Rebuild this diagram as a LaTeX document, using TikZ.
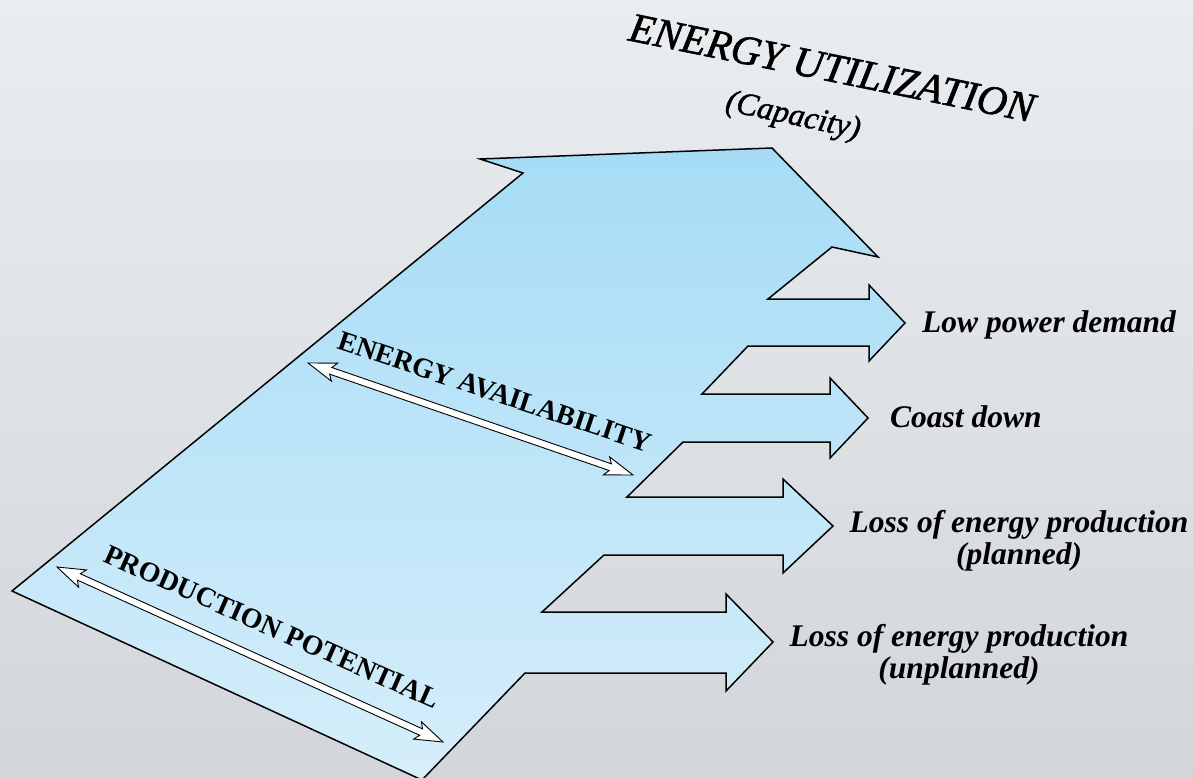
\documentclass[tikz,border=0pt]{standalone}
\usepackage{fontspec}
\setmainfont{Liberation Serif}
\newfontfamily\titlefont{Liberation Serif}[FakeBold=1.4]
\usetikzlibrary{calc}
\definecolor{bgtop}{RGB}{234,237,240}
\definecolor{bgbot}{RGB}{210,214,218}
\definecolor{flowtop}{RGB}{166,220,246}
\definecolor{flowbot}{RGB}{214,238,250}
\tikzset{
  flowline/.style={draw=black, line width=1.5pt, line join=miter, top color=flowtop, bottom color=flowbot},
  dblarrow/.style={draw=black, fill=white, line width=0.9pt, line join=miter},
  sidelabel/.style={font=\fontsize{31.5}{32}\selectfont\bfseries\itshape, inner sep=0pt, align=center},
  slantlabel/.style={font=\fontsize{28}{30}\selectfont\bfseries, inner sep=0pt},
  titlelabel/.style={font=\titlefont\fontsize{41.5}{44}\selectfont\itshape, inner sep=0pt},
  sublabel/.style={font=\titlefont\fontsize{32}{34}\selectfont\itshape, inner sep=0pt},
}
\newcommand{\hollowdbl}[2]{%
  \path[dblarrow] (#1)
    -- ($(#1)!28pt!(#2)!9.5pt!90:(#2)$)
    -- ($(#1)!24pt!(#2)!3.5pt!90:(#2)$)
    -- ($(#2)!24pt!(#1)!3.5pt!-90:(#1)$)
    -- ($(#2)!28pt!(#1)!9.5pt!-90:(#1)$)
    -- (#2)
    -- ($(#2)!28pt!(#1)!9.5pt!90:(#1)$)
    -- ($(#2)!24pt!(#1)!3.5pt!90:(#1)$)
    -- ($(#1)!24pt!(#2)!3.5pt!-90:(#2)$)
    -- ($(#1)!28pt!(#2)!9.5pt!-90:(#2)$)
    -- cycle;}
\begin{document}
\begin{tikzpicture}[x=1pt,y=-1pt]
\useasboundingbox (0,0) rectangle (1193,778);
\shade[top color=bgtop,bottom color=bgbot] (0,0) rectangle (1193,778);
% main flow shape
\path[flowline]
  (422,780) -- (12,591) -- (523,173) -- (480,159) -- (772,148) -- (878,257)
  -- (832,247) -- (768,299) -- (869,299) -- (869,285) -- (905,323) -- (869,361) -- (869,346)
  -- (748,346) -- (702,394) -- (830,394) -- (830,378) -- (868,418) -- (830,458) -- (830,442)
  -- (683,442) -- (627,497) -- (783,497) -- (783,479) -- (833,526) -- (783,573) -- (783,555)
  -- (604,555) -- (542,612) -- (726,612) -- (726,594) -- (773,642) -- (726,691) -- (726,673)
  -- (525,673) -- cycle;
% double arrows
\coordinate (eaL) at (308,363);
\coordinate (eaR) at (633,475);
\coordinate (ppL) at (57,567);
\coordinate (ppR) at (443,742);
\hollowdbl{eaL}{eaR}
\hollowdbl{ppL}{ppR}
% texts
\node[titlelabel, rotate=-11.5] (title) at (832,68) {ENERGY UTILIZATION};
\node[sublabel, rotate=-12] (cap) at (793,117) {(Capacity)};
\node[slantlabel, rotate=-18.5] (ea) at (495,392) {ENERGY AVAILABILITY};
\node[slantlabel, rotate=-24] (pp) at (272,627) {PRODUCTION POTENTIAL};
\node[sidelabel, anchor=base west] (low) at (922,332) {Low power demand};
\node[sidelabel, anchor=base west] (coast) at (890,427) {Coast down};
\node[sidelabel] (planned) at (1019,541) {Loss of energy production\\(planned)};
\node[sidelabel] (unplanned) at (959,655) {Loss of energy production\\(unplanned)};
\end{tikzpicture}
\end{document}
